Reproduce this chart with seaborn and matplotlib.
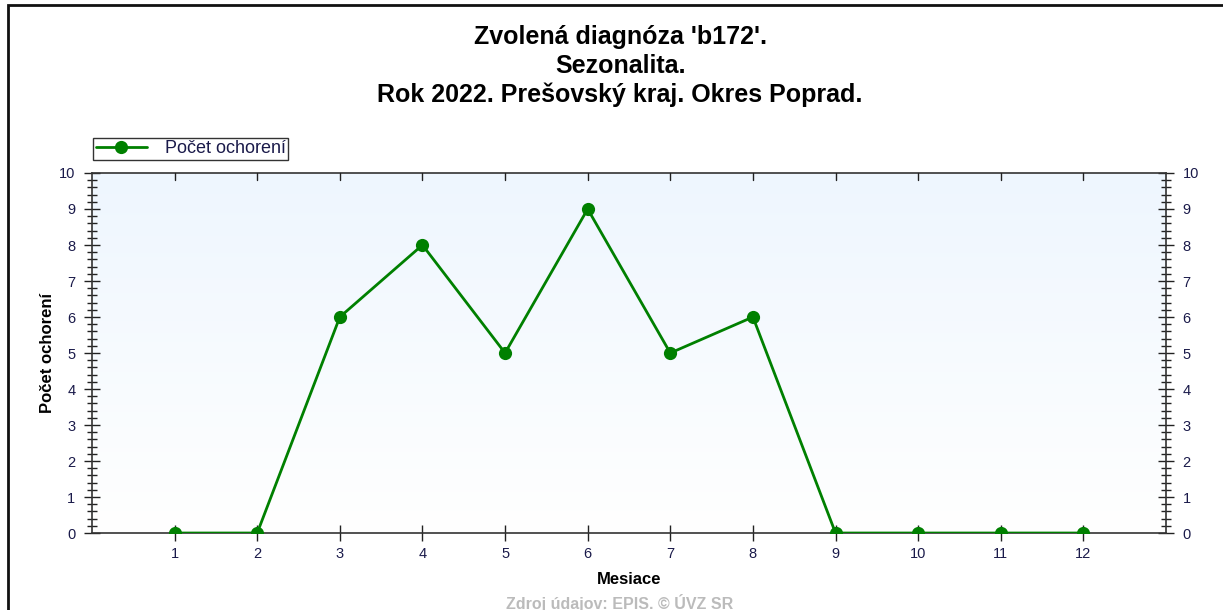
import numpy as np
import pandas as pd
import matplotlib
matplotlib.use("Agg")
import matplotlib.pyplot as plt
import seaborn as sns
from matplotlib.ticker import MultipleLocator
from matplotlib.patches import Rectangle

mesiace = [1, 2, 3, 4, 5, 6, 7, 8, 9, 10, 11, 12]
pocet = [0, 0, 6, 8, 5, 9, 5, 6, 0, 0, 0, 0]
titulok = "Zvolená diagnóza 'b172'.\nSezonalita.\nRok 2022. Prešovský kraj. Okres Poprad."

sns.set_style("white")
plt.rcParams['font.family'] = ['Liberation Sans', 'DejaVu Sans']

df = pd.DataFrame({"Mesiace": mesiace, "Počet ochorení": pocet})

fig = plt.figure(figsize=(12.23, 6.10), dpi=100)
ax = fig.add_axes([0.0752, 0.1262, 0.8782, 0.5902])

# gradient pozadia
grad = np.linspace(0, 1, 256).reshape(-1, 1)
cmap = matplotlib.colors.LinearSegmentedColormap.from_list("bg", ["#ffffff", "#eef6fe"])
ax.imshow(grad, extent=[0, 1, 0, 1], transform=ax.transAxes, aspect="auto",
          cmap=cmap, origin="lower", zorder=0)

sns.lineplot(data=df, x="Mesiace", y="Počet ochorení", ax=ax, color="#008000",
             linewidth=2, marker="o", markersize=9.5, markeredgewidth=0,
             label="Počet ochorení", legend=False, zorder=3)

ax.set_xlim(0, 13)
ax.set_ylim(0, 10)
ax.set_xticks(mesiace)
ax.yaxis.set_major_locator(MultipleLocator(1))
ax.yaxis.set_minor_locator(MultipleLocator(0.2))

for s in ax.spines.values():
    s.set_color("#333333")
    s.set_linewidth(1.2)

ax.tick_params(axis="y", which="both", direction="inout", left=True, right=True,
               labelleft=True, labelright=True, color="#222222", width=1,
               labelsize=10.5, labelcolor="#1a1a4a", pad=6)
ax.tick_params(axis="y", which="major", length=12)
ax.tick_params(axis="y", which="minor", length=7)
ax.tick_params(axis="x", which="major", direction="inout", length=12, bottom=True,
               top=False, color="#222222", width=1, labelsize=10.5,
               labelcolor="#1a1a4a", pad=4)
for xv in mesiace:
    ax.plot([xv, xv], [1, 0.98], transform=ax.get_xaxis_transform(),
            color="#222222", lw=1, clip_on=False, zorder=4)

ax.set_xlabel("Mesiace", fontsize=12, fontweight="bold", labelpad=8, color="black")
ax.set_ylabel("Počet ochorení", fontsize=12, fontweight="bold", labelpad=3, color="black")

fig.text(0.507, 0.959, titulok, ha="center", va="top", fontsize=18,
         fontweight="bold", linespacing=1.25, color="black")

leg = fig.legend(handles=ax.get_lines()[:1], labels=["Počet ochorení"],
                 loc="upper left", bbox_to_anchor=(0.069, 0.789), fontsize=13,
                 frameon=True, fancybox=False, edgecolor="black",
                 borderpad=0.15, handlelength=2.8, handletextpad=1.0,
                 labelcolor="#1a1a4a")
leg.get_frame().set_linewidth(1)

fig.text(0.507, 0.011, "Zdroj údajov: EPIS. © ÚVZ SR", ha="center", va="center",
         fontsize=11.5, fontweight="bold", color="#bbbbbb")

fig.patches.append(Rectangle((0.0065, -0.05), 1.0, 1.05 - 0.009, transform=fig.transFigure,
                             fill=False, edgecolor="#111111", linewidth=2))

fig.savefig("out.png", dpi=100)
